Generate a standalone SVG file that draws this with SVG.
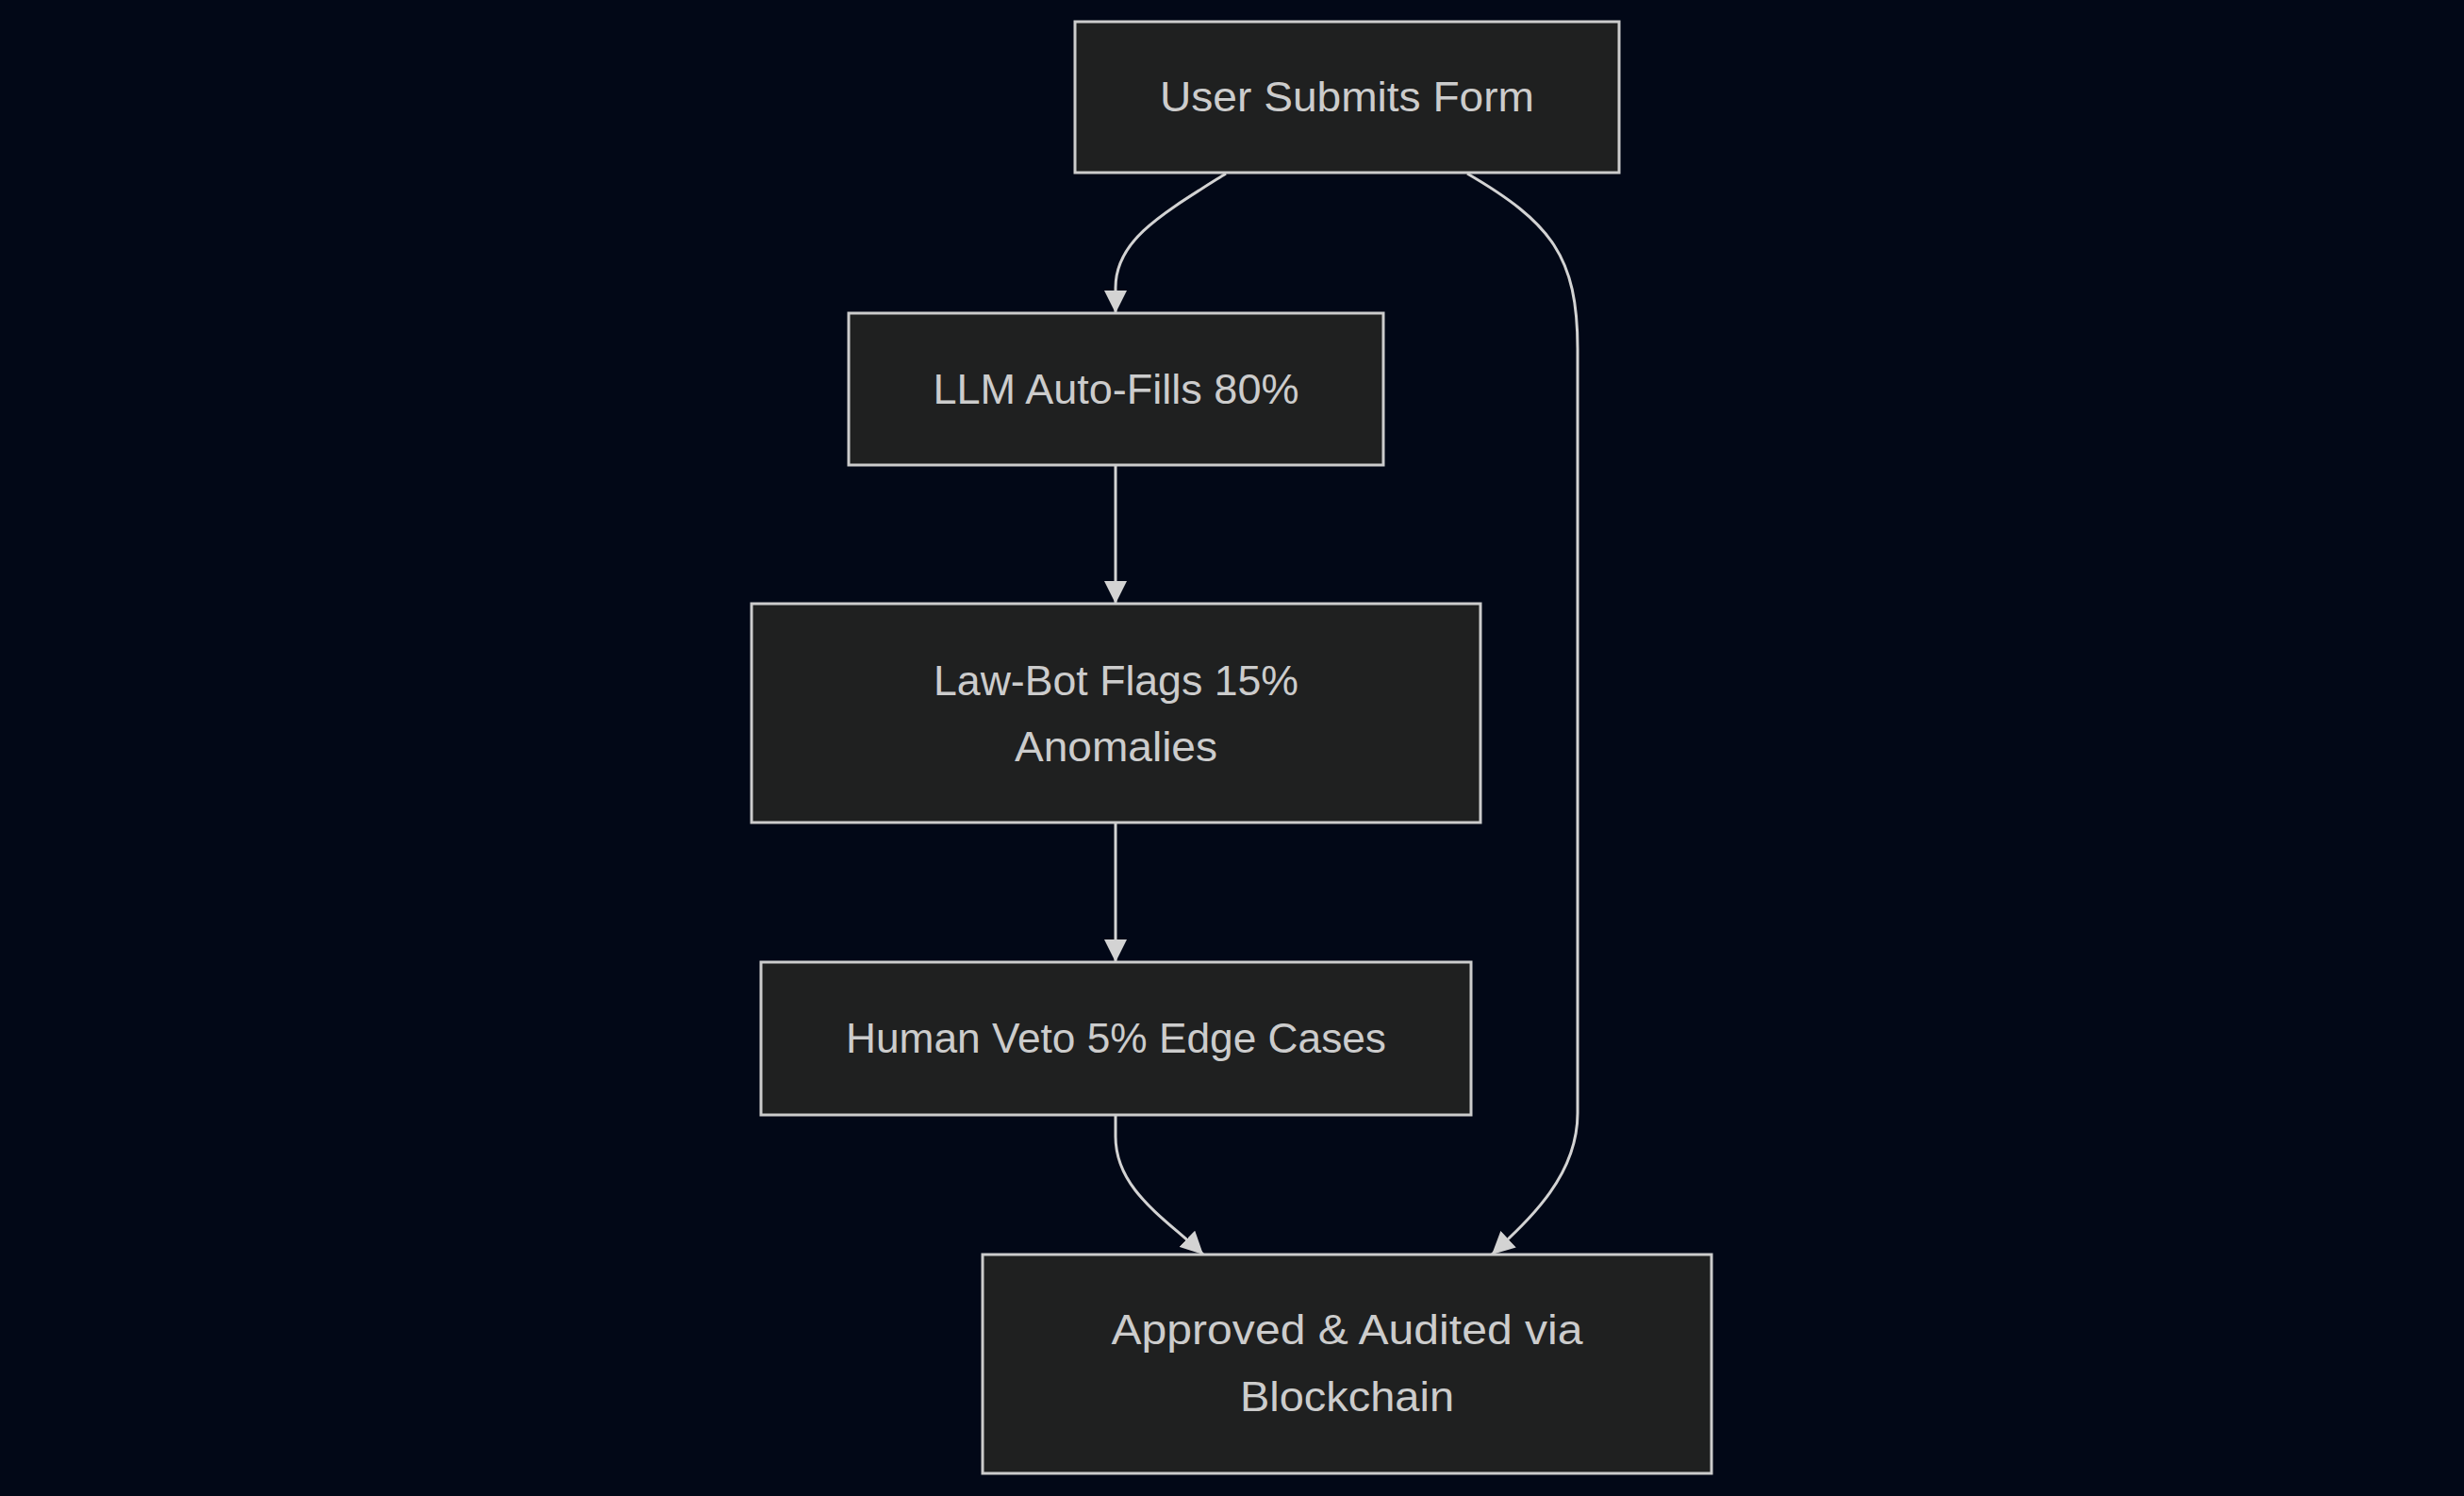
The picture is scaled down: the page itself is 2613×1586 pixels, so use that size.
<svg xmlns="http://www.w3.org/2000/svg" width="2613" height="1586" viewBox="0 0 2613 1586">
<defs>
<style>
.node rect{fill:#1f2020;stroke:#cccccc;stroke-width:3}
.node text{fill:#cccccc;font-family:"Liberation Sans",Arial,sans-serif;font-size:45px;text-anchor:middle}
.edge{fill:none;stroke:#d3d3d3;stroke-width:3}
</style>
<marker id="arrow" viewBox="0 0 10 10" refX="10" refY="5" markerUnits="userSpaceOnUse" markerWidth="24" markerHeight="24" orient="auto">
<path d="M0,0 L10,5 L0,10 z" fill="#d3d3d3"/>
</marker>
</defs>
<rect width="2613" height="1586" fill="#020817"/>
<g id="connectors">
<path class="edge" d="M1300,184 C1230,228 1183,255 1183,305 L1183,332" marker-end="url(#arrow)"/>
<path class="edge" d="M1183,493 L1183,640" marker-end="url(#arrow)"/>
<path class="edge" d="M1183,872 L1183,1020" marker-end="url(#arrow)"/>
<path class="edge" d="M1183,1182 L1183,1205 C1183,1262 1238,1293 1276,1330" marker-end="url(#arrow)"/>
<path class="edge" d="M1556,184 C1645,236 1673,272 1673,370 L1673,1180 C1673,1245 1625,1290 1582,1330" marker-end="url(#arrow)"/>
</g>
<g id="node-A" class="node">
<rect x="1140" y="23" width="577" height="160"/>
<text x="1428.5" y="118" textLength="397" lengthAdjust="spacingAndGlyphs">User Submits Form</text>
</g>
<g id="node-B" class="node">
<rect x="900" y="332" width="567" height="161"/>
<text x="1183.5" y="428" textLength="388" lengthAdjust="spacingAndGlyphs">LLM Auto-Fills 80%</text>
</g>
<g id="node-C" class="node">
<rect x="797" y="640" width="773" height="232"/>
<text x="1183.5" y="737" textLength="387" lengthAdjust="spacingAndGlyphs">Law-Bot Flags 15%</text>
<text x="1183.5" y="807" textLength="215" lengthAdjust="spacingAndGlyphs">Anomalies</text>
</g>
<g id="node-D" class="node">
<rect x="807" y="1020" width="753" height="162"/>
<text x="1183.5" y="1116" textLength="573" lengthAdjust="spacingAndGlyphs">Human Veto 5% Edge Cases</text>
</g>
<g id="node-E" class="node">
<rect x="1042" y="1330" width="773" height="232"/>
<text x="1428.5" y="1425" textLength="500" lengthAdjust="spacingAndGlyphs">Approved &amp; Audited via</text>
<text x="1428.5" y="1496" textLength="227" lengthAdjust="spacingAndGlyphs">Blockchain</text>
</g>
</svg>
